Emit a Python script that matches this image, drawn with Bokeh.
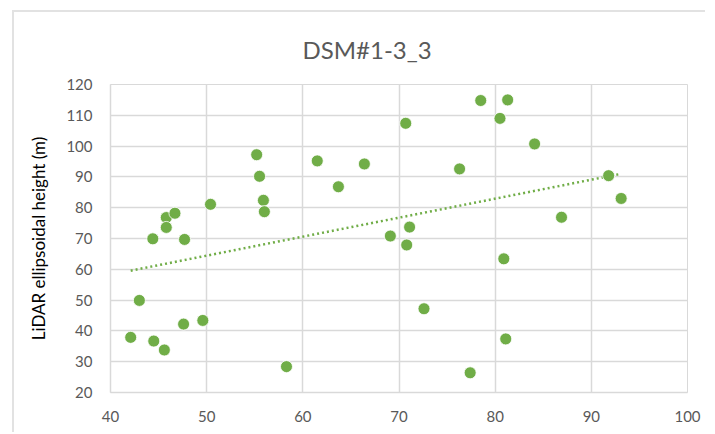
from bokeh.plotting import figure
from bokeh.models import Range1d, FixedTicker, ColumnDataSource
from bokeh.embed import file_html
from bokeh.resources import INLINE
import numpy as np

title_text = "DSM#1-3_3"
y_label = "LiDAR ellipsoidal height (m)"

x_vals = [44.4, 45.8, 45.8, 46.7, 47.7, 50.4, 55.2, 55.5, 55.9, 56.0, 61.5, 63.7,
          66.4, 69.1, 78.5, 81.3, 70.7, 80.5, 84.1, 76.3, 91.8, 93.1, 86.9, 71.1,
          70.8, 80.9, 43.0, 42.1, 44.5, 45.6, 47.6, 49.6, 58.3, 72.6, 81.1, 77.4]
y_vals = [69.9, 76.8, 73.6, 78.2, 69.7, 81.1, 97.2, 90.2, 82.4, 78.7, 95.2, 86.8,
          94.2, 70.8, 114.8, 115.0, 107.4, 109.0, 100.7, 92.6, 90.4, 83.0, 76.9, 73.7,
          67.9, 63.4, 49.9, 37.9, 36.7, 33.8, 42.2, 43.4, 28.4, 47.2, 37.4, 26.4]
x_ticks = [40, 50, 60, 70, 80, 90, 100]
y_ticks = [20, 30, 40, 50, 60, 70, 80, 90, 100, 110, 120]

GREEN = "#70ad47"
GRID = "#d9d9d9"
TXT = "#595959"
FONT = "Lato"

W, H = 693, 422
p = figure(width=W, height=H, output_backend="svg", toolbar_location=None,
           x_range=Range1d(40, 100), y_range=Range1d(20, 120),
           min_border_left=96, min_border_right=20, min_border_top=72, min_border_bottom=42)
p.styles = {"border-left": "2px solid #e2e2e2", "border-top": "2px solid #e2e2e2",
            "margin-left": "12px", "margin-top": "10px"}

p.title.text = title_text
p.title.align = "left"
p.title.vertical_align = "middle"
p.title.offset = 192
p.title.standoff = 40
p.title.text_font = FONT
p.title.text_font_size = "24px"
p.title.text_font_style = "normal"
p.title.text_color = TXT

p.outline_line_color = GRID
p.background_fill_color = "white"
p.border_fill_color = "white"

for ax, ticks in ((p.xaxis, x_ticks), (p.yaxis, y_ticks)):
    ax.ticker = FixedTicker(ticks=ticks)
    ax.major_tick_line_color = None
    ax.minor_tick_line_color = None
    ax.axis_line_color = GRID
    ax.axis_line_width = 1.5
    ax.major_label_text_font = FONT
    ax.major_label_text_font_size = "15px"
    ax.major_label_text_color = TXT
    ax.major_label_standoff = 12

p.yaxis.axis_label = y_label
p.yaxis.axis_label_text_font = FONT
p.yaxis.axis_label_text_font_size = "17px"
p.yaxis.axis_label_text_font_style = "normal"
p.yaxis.axis_label_text_color = "#000000"
p.yaxis.axis_label_standoff = 14

p.xgrid.ticker = FixedTicker(ticks=x_ticks)
p.ygrid.ticker = FixedTicker(ticks=y_ticks)
p.xgrid.grid_line_color = GRID
p.ygrid.grid_line_color = GRID
p.xgrid.grid_line_width = 1.5
p.ygrid.grid_line_width = 1.5

# linear trendline (least squares), spanning the data's x range
xa = np.array(x_vals)
ya = np.array(y_vals)
slope, intercept = np.polyfit(xa, ya, 1)
tx = [float(xa.min()), float(xa.max())]
ty = [float(slope * t + intercept) for t in tx]
p.line(tx, ty, line_color=GREEN, line_width=2.5, line_dash="2 3")

src = ColumnDataSource(dict(x=x_vals, y=y_vals))
p.scatter("x", "y", source=src, size=12, fill_color=GREEN, line_color="white", line_width=0.8)

open("out.html", "w").write(file_html(p, INLINE))
